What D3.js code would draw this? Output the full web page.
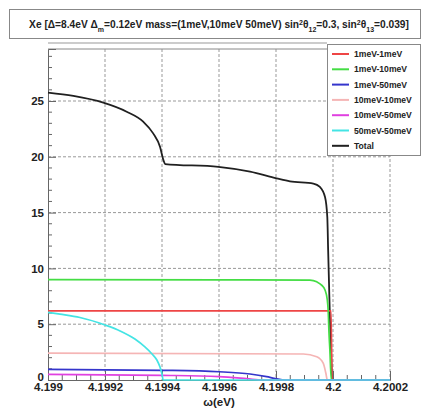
<!DOCTYPE html>
<html><head><meta charset="utf-8">
<script src="https://cdn.jsdelivr.net/npm/d3@7/dist/d3.min.js"></script>
<style>body{margin:0;background:#fff}svg{display:block}text{font-family:"Liberation Sans",Arial,sans-serif;font-weight:bold;fill:#222}</style>
</head><body><svg id="c" width="425" height="408"></svg>
<script>
const xTicks=[4.199,4.1992,4.1994,4.1996,4.1998,4.2,4.2002];
const xTickLabels=["4.199","4.1992","4.1994","4.1996","4.1998","4.2","4.2002"];
const yTicks=[0,5,10,15,20,25];
const seriesNames=["1meV-1meV","1meV-10meV","1meV-50meV","10meV-10meV","10meV-50meV","50meV-50meV","Total"];
const seriesColors=["#ee4545","#44dd44","#3535cc","#f5b5b5","#e040e0","#44e4e4","#202020"];
const red_w=[4.199,4.199993,4.199997,4.2002];
const red_v=[6.2,6.2,0,0];
const green_w=[4.199,4.1996,4.199919,4.199943,4.19996,4.199972,4.19998,4.199983,4.199986,4.199989,4.199994,4.2002];
const green_v=[9.0,8.97,8.95,8.8,8.5,8.06,7.17,6.27,4.2,2.7,0,0];
const blue_w=[4.199,4.199402,4.1996,4.199709,4.199767,4.1998,4.199832,4.2002];
const blue_v=[0.96,0.87,0.74,0.54,0.3,0.12,0,0];
const pink_w=[4.199,4.199896,4.199943,4.199966,4.199975,4.19998,4.2002];
const pink_v=[2.4,2.33,2.09,1.5,0.6,0,0];
const mag_w=[4.199,4.199402,4.1996,4.199697,4.199754,4.2002];
const mag_v=[0.51,0.42,0.3,0.12,0,0];
const cyan_w=[4.199,4.199042,4.199112,4.1992,4.199253,4.199305,4.19934,4.199365,4.199382,4.199393,4.1994,4.199404,4.2002];
const cyan_v=[6.06,5.9,5.6,4.93,4.4,3.67,2.96,2.33,1.79,1.16,0.54,0,0];
const total_w=[4.199,4.199089,4.199194,4.199276,4.199334,4.199369,4.199393,4.199405,4.199411,4.199598,4.199709,4.199802,4.199849,4.199931,4.199954,4.199972,4.19998,4.199983,4.199986,4.199989,4.199993,4.199997,4.2002];
const total_v=[25.75,25.45,24.85,24.04,23.15,22.1,20.9,19.7,19.35,19.1,18.67,18.07,17.8,17.6,17.3,16.4,14.6,11.6,8.7,5.7,2.7,0,0];
const seriesW=[red_w,green_w,blue_w,pink_w,mag_w,cyan_w,total_w];
const seriesV=[red_v,green_v,blue_v,pink_v,mag_v,cyan_v,total_v];
const drawOrder=[6,0,1,3,2,4,5];

const svg=d3.select("#c");
const L=48,R=390,T=49,B=380;
const x=d3.scaleLinear().domain([4.199,4.2002]).range([L,R]);
const y=d3.scaleLinear().domain([0,29.66]).range([B,T]);

// title box
svg.append("rect").attr("x",9.5).attr("y",9.5).attr("width",411).attr("height",29).attr("fill","#fff").attr("stroke","#888");
const tt=svg.append("text").attr("x",219).attr("y",28).attr("text-anchor","middle").style("font-size","10.2px");
const parts=[["Xe [\u0394=8.4eV \u0394",0],["m",1],["=0.12eV mass=(1meV,10meV 50meV) sin",0],["2",-1],["\u03b8",0],["12",1],["=0.3, sin",0],["2",-1],["\u03b8",0],["13",1],["=0.039]",0]];
let prev=0;
parts.forEach(([s,k])=>{const ts=tt.append("tspan").text(s);const dy=k*3.5-prev;if(dy)ts.attr("dy",dy);if(k)ts.style("font-size","7px");prev=k*3.5;});

// grid
const g=svg.append("g");
xTicks.slice(1).forEach(v=>g.append("line").attr("x1",x(v)).attr("x2",x(v)).attr("y1",T).attr("y2",B).attr("stroke","#999").attr("stroke-dasharray","3,2"));
yTicks.slice(1).forEach(v=>g.append("line").attr("x1",L).attr("x2",R).attr("y1",y(v)).attr("y2",y(v)).attr("stroke","#999").attr("stroke-dasharray","3,2"));
// frame
svg.append("line").attr("x1",L).attr("x2",327).attr("y1",43).attr("y2",43).attr("stroke","#999");
svg.append("line").attr("x1",L).attr("x2",R).attr("y1",T).attr("y2",T).attr("stroke","#888");

// axes
const ya=svg.append("g").attr("transform",`translate(${L},0)`).call(d3.axisLeft(y).tickValues(yTicks).tickSize(-8).tickPadding(4).tickFormat(d3.format("d")));
ya.select(".domain").attr("stroke","#666");
ya.selectAll(".tick line").attr("stroke","#666");
ya.selectAll("text").style("font-size","11.5px").attr("fill","#222");
ya.selectAll(".tick").filter(d=>d===0).select("text").attr("dy","0");
d3.range(0,30,1).filter(v=>v%5).forEach(v=>svg.append("line").attr("x1",L).attr("x2",L+4).attr("y1",y(v)).attr("y2",y(v)).attr("stroke","#666"));
const xa=svg.append("g").attr("transform",`translate(0,${B})`).call(d3.axisBottom(x).tickValues(xTicks).tickSize(-9).tickPadding(1).tickFormat((d,i)=>xTickLabels[i]));
xa.select(".domain").attr("stroke","#666");
xa.selectAll(".tick line").attr("stroke","#666");
xa.selectAll("text").style("font-size","11.5px").attr("fill","#222").attr("dy","0.9em");
d3.range(0,24).map(i=>4.199+i*0.00005).filter((v,i)=>i%4).forEach(v=>svg.append("line").attr("x1",x(v)).attr("x2",x(v)).attr("y1",B).attr("y2",B-5).attr("stroke","#666"));
svg.append("text").attr("x",219).attr("y",406).attr("text-anchor","middle").style("font-size","11.5px").text("\u03c9(eV)");

// series
const line=d3.line().curve(d3.curveMonotoneX).x(d=>x(d[0])).y(d=>y(d[1]));
drawOrder.forEach(i=>{
  const pts=seriesW[i].map((w,j)=>[w,seriesV[i][j]]);
  svg.append("path").attr("d",line(pts)).attr("fill","none").attr("stroke",seriesColors[i]).attr("stroke-width",i===6?1.8:1.7);
});

// legend
svg.append("rect").attr("x",327.5).attr("y",44.5).attr("width",93).attr("height",111).attr("fill","#fff").attr("stroke","#888");
seriesNames.forEach((n,i)=>{
  const yy=54+i*15.3;
  svg.append("line").attr("x1",332).attr("x2",349).attr("y1",yy).attr("y2",yy).attr("stroke",seriesColors[i]).attr("stroke-width",2);
  svg.append("text").attr("x",354).attr("y",yy+3).style("font-size","8.6px").text(n);
});
</script></body></html>
